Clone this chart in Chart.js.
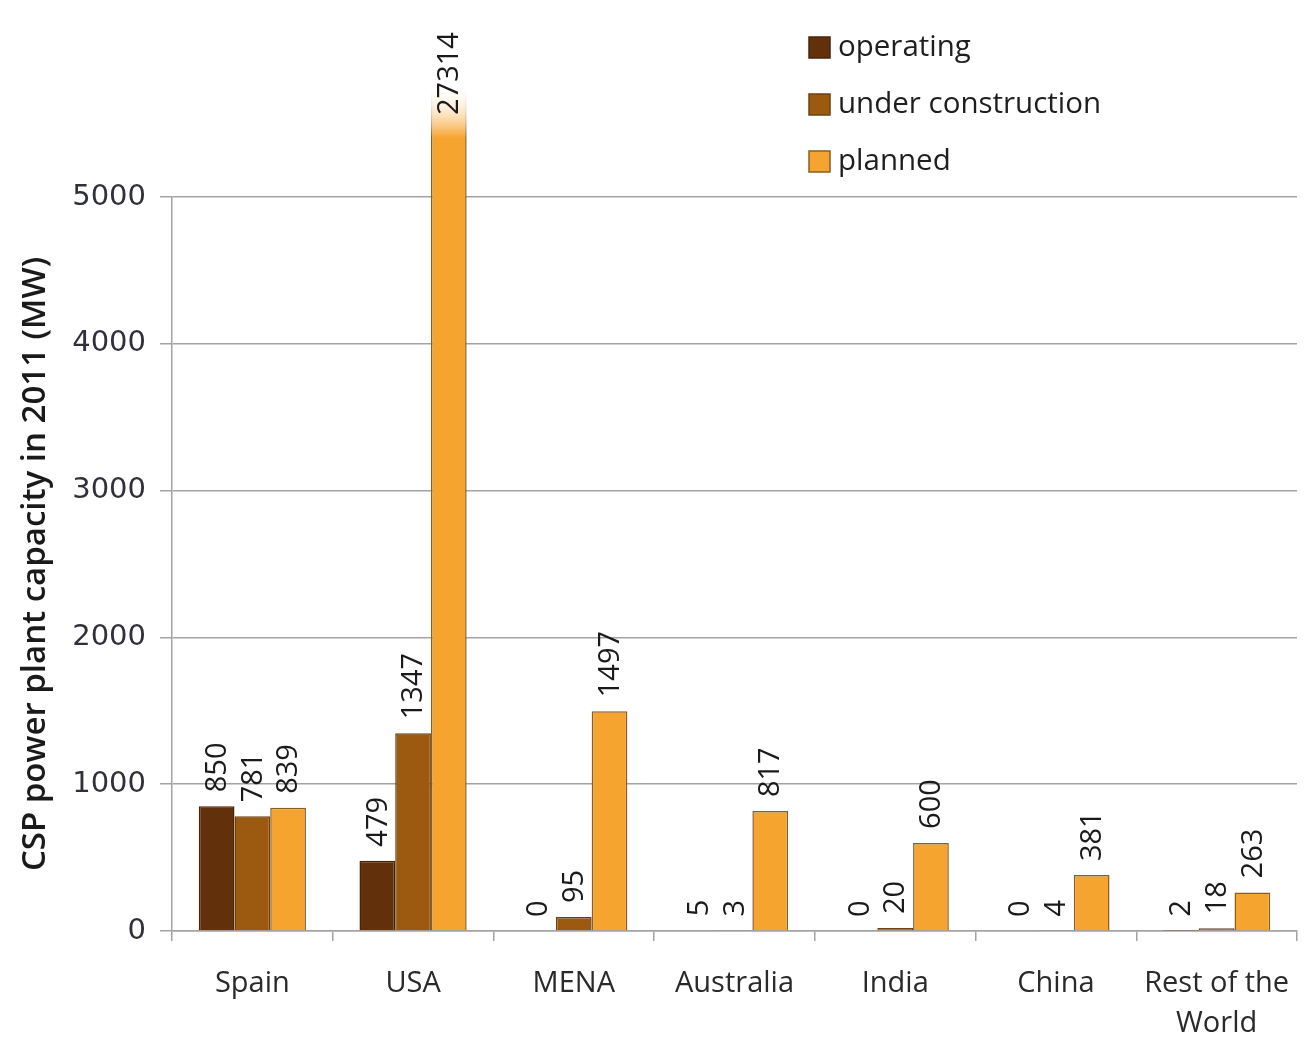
<!DOCTYPE html>
<html>
<head>
<meta charset="utf-8">
<script src="https://cdn.jsdelivr.net/npm/chart.js@4/dist/chart.umd.min.js"></script>
<style>
  html, body { margin: 0; padding: 0; background: #ffffff; }
  #wrap { width: 1308px; height: 1057px; position: relative; }
</style>
</head>
<body>
<div id="wrap"><canvas id="c" width="1308" height="1057"></canvas></div>
<script>
// ---- data ----
const categories = ['Spain', 'USA', 'MENA', 'Australia', 'India', 'China', ['Rest of the', 'World']];
const seriesNames = ['operating', 'under construction', 'planned'];
const operating = [850, 479, 0, 5, 0, 0, 2];
const underConstruction = [781, 1347, 95, 3, 20, 4, 18];
const planned = [839, 27314, 1497, 817, 600, 381, 263];
const yTickValues = [0, 1000, 2000, 3000, 4000, 5000];
const yTitle = 'CSP power plant capacity in 2011 (MW)';

// ---- styles ----
const fillColors = ['#62300b', '#9b5a10', '#f6a430'];
const edgeColors = ['#4a2408', '#6e4210', '#8a5e22'];
const Y_MAX = 5000;
const OVERFLOW = 117; // px a clipped bar may rise above the plot

function fadeFill(base, transparent) {
  return function (ctx) {
    const area = ctx.chart.chartArea;
    if (!area || ctx.type !== 'data' || ctx.raw <= Y_MAX) return base;
    const g = ctx.chart.ctx.createLinearGradient(0, area.top - OVERFLOW + 4, 0, area.top - OVERFLOW + 58);
    g.addColorStop(0, transparent);
    g.addColorStop(1, base);
    return g;
  };
}

const valueLabels = {
  id: 'valueLabels',
  afterDatasetsDraw(chart) {
    const ctx = chart.ctx;
    const area = chart.chartArea;
    ctx.save();
    ctx.font = '29px "Open Sans"';
    ctx.fillStyle = '#1a1a1a';
    ctx.textAlign = 'left';
    ctx.textBaseline = 'middle';
    chart.data.datasets.forEach((ds, di) => {
      const meta = chart.getDatasetMeta(di);
      meta.data.forEach((el, i) => {
        const v = ds.data[i];
        let anchor = el.y - 14;
        if (el.y < area.top - OVERFLOW) anchor = area.top - OVERFLOW + 35;
        ctx.save();
        ctx.translate(el.x + 1, anchor);
        ctx.rotate(-Math.PI / 2);
        ctx.fillText(String(v), 0, 0);
        ctx.restore();
      });
    });
    ctx.restore();
  }
};

const customLegend = {
  id: 'customLegend',
  afterDraw(chart) {
    const ctx = chart.ctx;
    ctx.save();
    ctx.font = '29.5px "Open Sans"';
    ctx.textAlign = 'left';
    ctx.textBaseline = 'middle';
    const rows = [48, 105, 162];
    chart.data.datasets.forEach((ds, i) => {
      const y = rows[i];
      ctx.fillStyle = fillColors[i];
      ctx.fillRect(809, y - 11, 21, 21);
      ctx.strokeStyle = edgeColors[i];
      ctx.lineWidth = 1.5;
      ctx.strokeRect(809, y - 11, 21, 21);
      ctx.fillStyle = '#1e1e1e';
      ctx.fillText(ds.label, 838, y);
    });
    ctx.restore();
  }
};

const datasets = [operating, underConstruction, planned].map((arr, i) => ({
  label: seriesNames[i],
  data: arr,
  backgroundColor: fadeFill(fillColors[i], 'rgba(255,255,255,0)'),
  borderColor: fadeFill(edgeColors[i], 'rgba(255,255,255,0)'),
  borderWidth: 1.5,
  borderSkipped: 'bottom',
  clip: { left: 0, top: OVERFLOW, right: 0, bottom: 0 }
}));

new Chart(document.getElementById('c'), {
  type: 'bar',
  data: { labels: categories, datasets: datasets },
  options: {
    responsive: false,
    animation: false,
    devicePixelRatio: 1,
    categoryPercentage: 0.667,
    barPercentage: 1.0,
    layout: { padding: { top: 197, right: 11, left: 0, bottom: 0 } },
    plugins: {
      legend: { display: false },
      tooltip: { enabled: false }
    },
    scales: {
      x: {
        grid: { offset: true, drawOnChartArea: false, drawTicks: true, tickLength: 10, color: '#a3a3a3', lineWidth: 1.5 },
        border: { color: '#a3a3a3', width: 1.5 },
        ticks: { color: '#2a2a2a', font: { family: 'Open Sans', size: 29, lineHeight: 1.4 }, padding: 22, maxRotation: 0, autoSkip: false },
        afterFit(scale) { scale.height = 126; scale.paddingLeft = 0; scale.paddingRight = 0; }
      },
      y: {
        min: 0,
        max: Y_MAX,
        afterBuildTicks(scale) { scale.ticks = yTickValues.map(v => ({ value: v })); },
        ticks: { color: '#30303a', font: { family: 'DejaVu Sans', size: 29 }, padding: 14, callback: (v) => String(v) },
        grid: { color: '#a3a3a3', lineWidth: 1.5, tickLength: 12 },
        border: { color: '#a3a3a3', width: 1.5 },
        title: { display: true, text: yTitle, color: '#1a1a1a', font: { family: 'Open Sans', size: 33, weight: '600' }, padding: { top: 16, bottom: 0 } },
        afterFit(scale) { scale.width = 172; }
      }
    }
  },
  plugins: [valueLabels, customLegend]
});
</script>
</body>
</html>
